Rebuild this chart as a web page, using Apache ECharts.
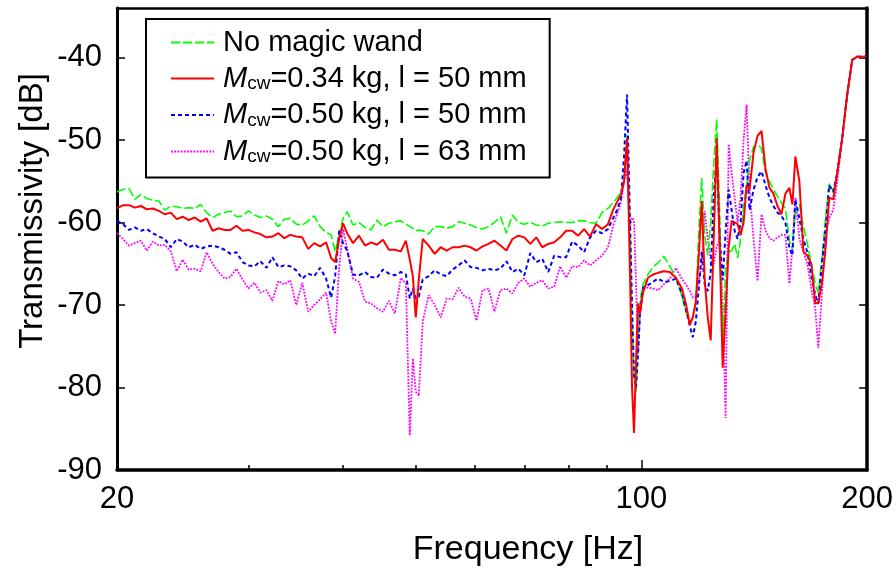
<!DOCTYPE html>
<html>
<head>
<meta charset="utf-8">
<script src="https://cdn.jsdelivr.net/npm/echarts@6/dist/echarts.min.js"></script>
<style>
html,body{margin:0;padding:0;background:#fff;}
#chart{width:896px;height:570px;}
</style>
</head>
<body>
<div id="chart"></div>
<script>
// Frequency grid [Hz]
const freqHz = [
20.00,20.37,20.75,21.13,21.52,21.92,22.33,22.74,23.16,23.59,24.03,24.47,24.92,25.39,25.86,26.33,26.82,27.32,27.82,28.34,
28.86,29.40,29.94,30.50,31.06,31.64,32.22,32.82,33.43,34.04,34.67,35.32,35.97,36.64,37.31,38.00,38.59,39.07,39.55,40.03,
40.53,41.28,42.04,42.82,43.61,44.42,45.24,46.08,46.93,47.80,48.54,49.13,49.59,50.04,50.50,51.12,52.07,53.03,54.02,55.02,
56.03,57.07,58.13,59.20,60.30,61.42,62.55,63.71,64.89,66.09,67.32,68.56,69.83,71.12,72.44,73.78,75.15,76.54,77.95,79.40,
80.87,82.36,83.89,85.44,87.02,88.63,90.27,91.66,92.83,93.97,94.84,95.71,96.59,97.19,97.78,98.38,98.99,99.59,100.51,102.06,
103.64,105.23,107.18,109.16,111.19,113.24,114.64,116.05,117.12,118.20,119.29,120.39,121.49,122.62,123.74,124.88,126.04,127.20,128.37,129.55,
130.74,131.95,133.17,134.39,135.63,136.88,138.14,139.41,141.13,142.87,144.62,146.40,148.20,150.03,151.87,153.74,155.63,157.55,159.00,160.46,
162.44,164.44,166.46,168.51,170.58,172.15,174.27,175.88,178.04,180.23,182.45,185.26,188.12,191.02,193.97,197.57,199.39
];
// Transmissivity [dB]
const noWand = [
-56.3,-56.0,-55.9,-57.2,-56.6,-57.1,-57.3,-57.4,-58.5,-58.0,-58.1,-58.3,-58.2,-58.3,-57.8,-58.8,-59.4,-59.0,-58.8,-58.6,
-59.3,-59.2,-58.6,-59.1,-59.4,-59.2,-59.6,-60.5,-59.6,-59.5,-60.2,-60.3,-59.8,-59.2,-60.5,-61.2,-61.5,-63.5,-61.5,-59.5,
-58.7,-60.3,-60.0,-60.6,-60.9,-59.7,-60.5,-60.1,-59.9,-59.8,-60.2,-60.5,-60.7,-61.0,-60.9,-61.0,-61.4,-60.5,-60.5,-60.7,
-60.5,-59.9,-60.1,-60.3,-60.6,-60.8,-60.5,-60.0,-59.3,-61.3,-59.1,-60.0,-60.2,-60.0,-60.3,-60.4,-60.1,-60.0,-59.9,-60.0,
-60.0,-59.8,-59.8,-60.0,-60.1,-58.8,-58.3,-57.6,-57.0,-56.2,-55.0,-49.3,-60.6,-72.0,-78.5,-80.5,-74.0,-69.5,-67.5,-66.3,
-65.4,-64.9,-64.1,-65.3,-66.7,-68.9,-70.8,-72.0,-71.5,-70.0,-61.0,-54.6,-61.5,-64.0,-60.0,-53.0,-47.5,-58.7,-75.2,-65.5,
-63.6,-63.4,-62.6,-64.3,-62.0,-58.0,-55.5,-52.5,-50.8,-50.6,-51.0,-54.0,-55.0,-56.0,-56.8,-57.6,-58.3,-62.2,-63.2,-58.5,
-57.8,-60.5,-62.5,-65.0,-67.5,-68.5,-64.0,-59.8,-55.3,-56.2,-54.0,-49.8,-44.5,-40.3,-39.9,-39.9,-39.9
];
const m034l50 = [
-58.3,-57.9,-57.9,-58.2,-58.0,-58.4,-58.3,-58.6,-59.0,-58.8,-59.6,-59.3,-59.7,-59.4,-59.9,-59.5,-61.0,-60.7,-60.9,-60.9,
-60.4,-61.0,-60.9,-61.2,-61.4,-61.8,-61.7,-61.3,-61.9,-61.5,-61.7,-61.8,-63.2,-62.5,-62.9,-62.4,-64.3,-64.8,-62.0,-60.1,
-61.3,-62.5,-61.6,-62.8,-62.4,-62.7,-62.1,-63.3,-63.3,-63.5,-62.2,-64.5,-66.5,-71.5,-67.0,-62.0,-62.8,-63.8,-63.0,-63.4,
-63.0,-63.0,-62.8,-63.0,-63.4,-62.9,-62.6,-62.2,-62.8,-63.4,-62.0,-61.6,-61.8,-62.6,-61.8,-63.0,-62.6,-62.4,-61.8,-61.0,
-61.0,-61.6,-60.8,-61.7,-60.2,-60.8,-60.2,-58.5,-57.5,-56.6,-55.0,-49.8,-66.2,-80.0,-85.5,-77.0,-69.8,-71.0,-68.5,-66.7,
-66.3,-66.1,-65.9,-66.0,-66.7,-68.0,-69.8,-72.4,-71.5,-69.6,-64.0,-57.4,-67.0,-71.5,-74.3,-62.0,-49.8,-63.1,-77.6,-70.6,
-63.0,-59.8,-60.0,-60.2,-61.5,-60.0,-55.5,-56.0,-51.5,-49.5,-48.9,-53.5,-55.8,-56.5,-58.0,-59.0,-56.5,-55.8,-57.8,-52.0,
-55.0,-63.5,-64.0,-65.0,-69.8,-69.8,-67.0,-63.5,-57.0,-57.2,-54.0,-49.8,-44.5,-40.3,-39.9,-39.9,-39.9
];
const m050l50 = [
-59.8,-60.2,-60.9,-60.6,-61.0,-60.8,-61.3,-61.7,-62.0,-63.0,-62.0,-62.3,-63.0,-62.7,-63.2,-62.9,-62.8,-63.0,-63.3,-63.8,
-63.6,-64.8,-65.2,-65.3,-64.7,-65.5,-64.2,-65.4,-65.2,-65.3,-65.8,-66.8,-66.2,-66.5,-65.5,-66.8,-69.1,-66.5,-61.0,-62.5,
-63.4,-66.3,-66.4,-66.0,-66.6,-66.7,-65.7,-66.2,-66.4,-66.0,-66.3,-69.2,-68.0,-69.2,-69.0,-66.9,-66.5,-65.8,-66.3,-66.5,
-65.7,-65.2,-64.6,-65.4,-65.5,-65.8,-65.6,-65.8,-65.6,-64.7,-66.0,-65.6,-66.4,-63.7,-64.8,-64.4,-66.0,-64.0,-64.2,-64.2,
-62.3,-62.8,-63.6,-61.8,-61.0,-61.3,-60.8,-59.5,-58.5,-57.0,-52.0,-44.5,-60.0,-70.0,-78.5,-80.0,-76.0,-71.0,-67.9,-67.6,
-67.2,-66.8,-67.2,-67.1,-66.8,-68.6,-70.5,-72.5,-73.9,-72.0,-68.0,-63.5,-67.5,-68.3,-66.0,-57.0,-52.0,-62.0,-67.0,-61.0,
-56.0,-58.5,-61.0,-62.0,-60.0,-54.0,-52.5,-58.5,-56.0,-54.5,-53.8,-55.5,-57.0,-58.0,-58.8,-59.2,-60.0,-63.1,-64.0,-57.2,
-59.5,-62.0,-63.6,-66.5,-68.8,-69.8,-64.5,-61.0,-55.5,-56.3,-54.0,-49.8,-44.5,-40.3,-39.9,-39.9,-39.9
];
const m050l63 = [
-61.3,-62.0,-62.8,-62.5,-62.2,-63.4,-62.3,-62.8,-62.7,-63.5,-65.9,-64.5,-65.7,-65.6,-65.9,-63.6,-65.0,-66.0,-66.8,-66.6,
-65.6,-66.9,-68.0,-67.3,-68.5,-68.2,-69.5,-67.1,-67.5,-67.0,-70.0,-67.3,-70.8,-70.0,-69.3,-68.5,-72.0,-73.5,-65.5,-60.8,
-63.1,-66.8,-67.2,-69.6,-69.8,-70.4,-70.8,-69.5,-71.0,-66.7,-67.4,-85.8,-76.5,-80.5,-81.0,-72.0,-68.8,-70.0,-71.5,-69.2,
-69.3,-67.9,-69.0,-69.2,-71.9,-68.2,-68.0,-70.8,-68.2,-68.0,-68.6,-67.3,-66.8,-67.8,-67.3,-67.0,-68.0,-67.8,-65.3,-66.7,
-65.3,-65.4,-64.6,-65.2,-64.6,-64.0,-63.0,-60.5,-59.0,-57.5,-55.0,-53.5,-60.6,-59.4,-59.8,-67.1,-75.9,-71.0,-68.0,-67.9,
-68.0,-68.2,-67.5,-66.8,-65.5,-66.8,-67.5,-68.3,-69.1,-69.0,-67.0,-65.0,-58.6,-62.0,-64.5,-65.0,-63.0,-62.0,-70.0,-83.7,
-50.5,-54.0,-57.0,-60.0,-57.0,-50.0,-45.7,-56.0,-62.0,-67.1,-59.0,-61.0,-61.9,-62.2,-61.8,-61.5,-61.5,-67.4,-63.0,-57.0,
-62.0,-63.5,-65.0,-68.0,-70.5,-75.2,-68.0,-61.5,-59.5,-58.5,-55.0,-49.8,-44.5,-40.3,-39.9,-39.9,-39.9
];
const seriesNames = [
  'No magic wand',
  'M_cw=0.34 kg, l = 50 mm',
  'M_cw=0.50 kg, l = 50 mm',
  'M_cw=0.50 kg, l = 63 mm'
];
const xMajorTicks = [20, 100, 200];
const xMinorTicks = [30, 40, 50, 60, 70, 80, 90];
const yTicks = [-90, -80, -70, -60, -50, -40];

const FONT = 'Liberation Sans, Arial, Helvetica, sans-serif';
const pair = arr => freqHz.map((f, i) => [f, arr[i]]);

const chart = echarts.init(document.getElementById('chart'), null, {renderer: 'canvas'});

const legendRich = {
  n: {fontFamily: FONT, fontSize: 29, color: '#000', lineHeight: 30},
  i: {fontFamily: FONT, fontSize: 29, fontStyle: 'italic', color: '#000', lineHeight: 30},
  s: {fontFamily: FONT, fontSize: 19, color: '#000', lineHeight: 13, verticalAlign: 'bottom'}
};
function legendFmt(name) {
  if (name.indexOf('M_cw') === 0) {
    return '{i|M}{s|cw}{n|' + name.slice(4) + '}';
  }
  return '{n|' + name + '}';
}

const option = {
  animation: false,
  backgroundColor: '#fff',
  grid: {left: 117, right: 26, top: 8, bottom: 100, containLabel: false},
  xAxis: [
    {
      type: 'log', logBase: 10, min: 20, max: 200, position: 'bottom',
      axisLine: {show: true, lineStyle: {color: '#000', width: 3.5}},
      axisTick: {show: true, inside: true, length: 10, lineStyle: {color: '#000', width: 1.5}, customValues: xMajorTicks},
      axisLabel: {show: true, customValues: xMajorTicks, margin: 14, color: '#000', fontSize: 31, fontFamily: FONT,
                  formatter: v => String(Math.round(v))},
      splitLine: {show: false}, minorTick: {show: false}
    },
    {
      type: 'log', logBase: 10, min: 20, max: 200, position: 'bottom',
      axisLine: {show: false},
      axisTick: {show: true, inside: true, length: 5, lineStyle: {color: '#000', width: 1.5}, customValues: xMinorTicks},
      axisLabel: {show: false}, splitLine: {show: false}
    },
    {
      type: 'log', logBase: 10, min: 20, max: 200, position: 'top',
      axisLine: {show: true, lineStyle: {color: '#000', width: 2.5}},
      axisTick: {show: false}, axisLabel: {show: false}, splitLine: {show: false}
    }
  ],
  yAxis: [
    {
      type: 'value', min: -90, max: -34, position: 'left',
      axisLine: {show: true, lineStyle: {color: '#000', width: 3}},
      axisTick: {show: true, inside: true, length: 8, lineStyle: {color: '#000', width: 1.5}, customValues: yTicks},
      axisLabel: {show: true, customValues: yTicks, margin: 15, color: '#000', fontSize: 31, fontFamily: FONT},
      splitLine: {show: false}
    },
    {
      type: 'value', min: -90, max: -34, position: 'right',
      axisLine: {show: true, lineStyle: {color: '#000', width: 3.5}},
      axisTick: {show: true, inside: true, length: 8, lineStyle: {color: '#000', width: 1.5}, customValues: yTicks},
      axisLabel: {show: false}, splitLine: {show: false}
    }
  ],
  legend: {
    orient: 'vertical', left: 146, top: 19,
    data: seriesNames,
    itemWidth: 43, itemHeight: 14, itemGap: 7,
    padding: [9, 23, 11, 24],
    borderColor: '#000', borderWidth: 2, backgroundColor: '#fff',
    selectedMode: false,
    itemStyle: {opacity: 0},
    textStyle: {fontFamily: FONT, fontSize: 29, color: '#000', padding: [0, 0, 0, 4], rich: legendRich},
    formatter: legendFmt
  },
  graphic: [
    {
      type: 'text', x: 33, y: 211, rotation: Math.PI / 2,
      style: {text: 'Transmissivity [dB]', font: '33px ' + FONT, fill: '#000', align: 'center', verticalAlign: 'middle'}
    },
    {
      type: 'text', x: 528, y: 550,
      style: {text: 'Frequency [Hz]', font: '34px ' + FONT, fill: '#000', align: 'center', verticalAlign: 'middle'}
    }
  ],
  series: [
    {
      name: seriesNames[3], type: 'line', data: pair(m050l63), showSymbol: false, symbol: 'none', z: 2,
      lineStyle: {color: '#ff00ff', width: 1.8, type: [1.8, 1.4]}, itemStyle: {color: '#ff00ff'}
    },
    {
      name: seriesNames[0], type: 'line', data: pair(noWand), showSymbol: false, symbol: 'none', z: 3,
      lineStyle: {color: '#00ff00', width: 1.6, type: [9, 3]}, itemStyle: {color: '#00ff00'}
    },
    {
      name: seriesNames[2], type: 'line', data: pair(m050l50), showSymbol: false, symbol: 'none', z: 4,
      lineStyle: {color: '#0000ff', width: 2, type: [4, 3]}, itemStyle: {color: '#0000ff'}
    },
    {
      name: seriesNames[1], type: 'line', data: pair(m034l50), showSymbol: false, symbol: 'none', z: 5,
      lineStyle: {color: '#ff0000', width: 2, type: 'solid'}, itemStyle: {color: '#ff0000'}
    }
  ]
};
chart.setOption(option);
</script>
</body>
</html>
